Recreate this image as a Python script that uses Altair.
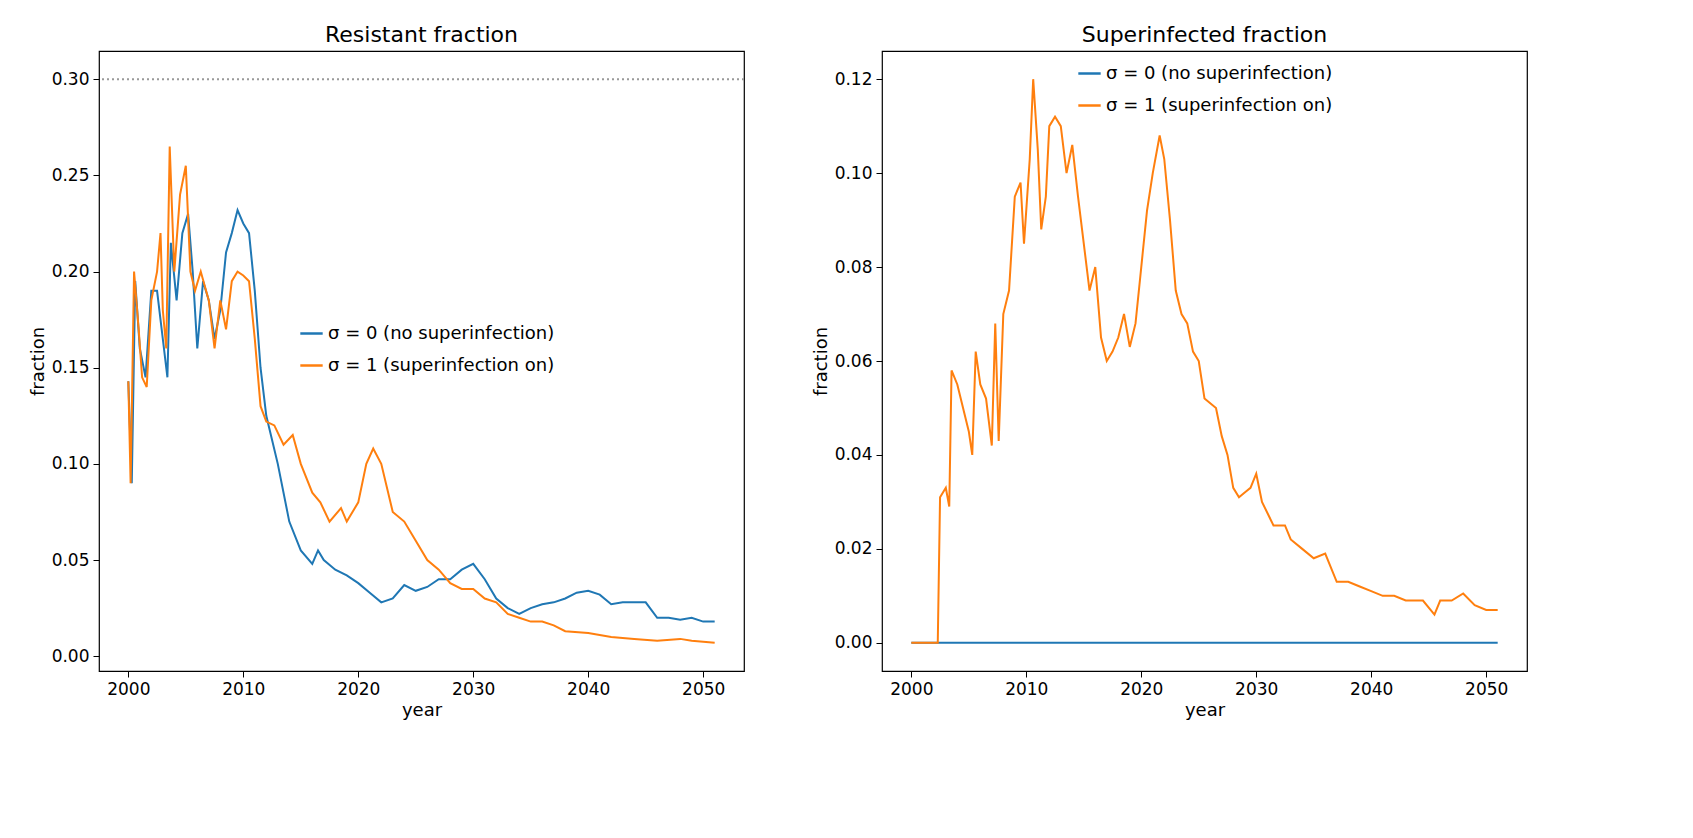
import altair as alt
import pandas as pd

LAB0 = 'σ = 0 (no superinfection)'
LAB1 = 'σ = 1 (superinfection on)'

# resistant fraction, sigma = 0
res0_year = [2000, 2000.3, 2000.6, 2001, 2001.5, 2002, 2002.5, 2003, 2003.4, 2003.7, 2004.2, 2004.7,
             2005.2, 2005.6, 2006, 2006.5, 2007, 2007.5, 2008, 2008.5, 2009, 2009.5, 2010, 2010.5,
             2011, 2011.5, 2012, 2013, 2014, 2015, 2016, 2016.5, 2017, 2018, 2019, 2020, 2021, 2022,
             2023, 2024, 2025, 2026, 2027, 2028, 2029, 2030, 2031, 2032, 2033, 2034, 2035, 2036, 2037,
             2038, 2039, 2040, 2041, 2042, 2043, 2044, 2045, 2046, 2047, 2048, 2049, 2050, 2051]
res0_val = [0.143, 0.09, 0.195, 0.16, 0.145, 0.19, 0.19, 0.165, 0.145, 0.215, 0.185, 0.22,
            0.23, 0.2, 0.16, 0.195, 0.185, 0.165, 0.18, 0.21, 0.22, 0.232, 0.225, 0.22,
            0.19, 0.15, 0.125, 0.1, 0.07, 0.055, 0.048, 0.055, 0.05, 0.045, 0.042, 0.038, 0.033, 0.028,
            0.03, 0.037, 0.034, 0.036, 0.04, 0.04, 0.045, 0.048, 0.04, 0.03, 0.025, 0.022, 0.025, 0.027, 0.028,
            0.03, 0.033, 0.034, 0.032, 0.027, 0.028, 0.028, 0.028, 0.02, 0.02, 0.019, 0.02, 0.018, 0.018]

# resistant fraction, sigma = 1
res1_year = [2000, 2000.2, 2000.5, 2000.9, 2001.2, 2001.6, 2002, 2002.5, 2002.8, 2003, 2003.3, 2003.6,
             2004, 2004.5, 2005, 2005.4, 2005.8, 2006.3, 2007, 2007.5, 2008, 2008.5, 2009, 2009.5,
             2010, 2010.5, 2011, 2011.5, 2012, 2012.7, 2013.5, 2014.3, 2015, 2016, 2016.7, 2017.5,
             2018.5, 2019, 2020, 2020.7, 2021.3, 2022, 2023, 2024, 2025, 2026, 2027, 2028, 2029, 2030,
             2031, 2032, 2033, 2034, 2035, 2036, 2037, 2038, 2040, 2042, 2044, 2046, 2048, 2049, 2051]
res1_val = [0.143, 0.09, 0.2, 0.17, 0.145, 0.14, 0.185, 0.2, 0.22, 0.18, 0.16, 0.265,
            0.2, 0.24, 0.255, 0.2, 0.19, 0.2, 0.185, 0.16, 0.185, 0.17, 0.195, 0.2,
            0.198, 0.195, 0.165, 0.13, 0.122, 0.12, 0.11, 0.115, 0.1, 0.085, 0.08, 0.07,
            0.077, 0.07, 0.08, 0.1, 0.108, 0.1, 0.075, 0.07, 0.06, 0.05, 0.045, 0.038, 0.035, 0.035,
            0.03, 0.028, 0.022, 0.02, 0.018, 0.018, 0.016, 0.013, 0.012, 0.01, 0.009, 0.008, 0.009, 0.008, 0.007]

# superinfected fraction, sigma = 1 (sigma = 0 stays at zero)
sup1_year = [2000, 2002.3, 2002.5, 2003, 2003.3, 2003.5, 2004, 2004.5, 2005, 2005.3, 2005.6, 2006,
             2006.5, 2007, 2007.3, 2007.6, 2008, 2008.5, 2009, 2009.5, 2009.8, 2010.3, 2010.6, 2011,
             2011.3, 2011.7, 2012, 2012.5, 2013, 2013.5, 2014, 2014.5, 2015, 2015.5, 2016, 2016.5,
             2017, 2017.5, 2018, 2018.5, 2019, 2019.5, 2020, 2020.5, 2021, 2021.6, 2022, 2022.5, 2023,
             2023.5, 2024, 2024.5, 2025, 2025.5, 2026.5, 2027, 2027.5, 2028, 2028.5, 2029, 2029.5, 2030,
             2030.5, 2031.5, 2032.5, 2033, 2034, 2035, 2036, 2037, 2038, 2039, 2040, 2041, 2042, 2043,
             2044.5, 2045.5, 2046, 2047, 2048, 2049, 2050, 2051]
sup1_val = [0, 0, 0.031, 0.033, 0.029, 0.058, 0.055, 0.05, 0.045, 0.04, 0.062, 0.055,
            0.052, 0.042, 0.068, 0.043, 0.07, 0.075, 0.095, 0.098, 0.085, 0.103, 0.12, 0.105,
            0.088, 0.095, 0.11, 0.112, 0.11, 0.1, 0.106, 0.095, 0.085, 0.075, 0.08, 0.065,
            0.06, 0.062, 0.065, 0.07, 0.063, 0.068, 0.08, 0.092, 0.1, 0.108, 0.103, 0.09, 0.075,
            0.07, 0.068, 0.062, 0.06, 0.052, 0.05, 0.044, 0.04, 0.033, 0.031, 0.032, 0.033, 0.036,
            0.03, 0.025, 0.025, 0.022, 0.02, 0.018, 0.019, 0.013, 0.013, 0.012, 0.011, 0.01, 0.01, 0.009,
            0.009, 0.006, 0.009, 0.009, 0.0105, 0.008, 0.007, 0.007]
sup0_year = [2000, 2051]
sup0_val = [0, 0]

res = pd.concat([
    pd.DataFrame({'year': res0_year, 'fraction': res0_val, 'run': LAB0}),
    pd.DataFrame({'year': res1_year, 'fraction': res1_val, 'run': LAB1}),
])
sup = pd.concat([
    pd.DataFrame({'year': sup0_year, 'fraction': sup0_val, 'run': LAB0}),
    pd.DataFrame({'year': sup1_year, 'fraction': sup1_val, 'run': LAB1}),
])

W, H = 645, 620
xscale = alt.Scale(domain=[1997.45, 2053.55], nice=False, zero=False)
xaxis = alt.Axis(values=[2000, 2010, 2020, 2030, 2040, 2050], format='d', grid=False)


def panel(df, title, ydom, yvals, legx, legy):
    color = alt.Color('run:N', scale=alt.Scale(domain=[LAB0, LAB1], range=['#1f77b4', '#ff7f0e']),
                      legend=alt.Legend(title=None, orient='none', legendX=legx, legendY=legy,
                                        symbolType='stroke', symbolStrokeWidth=2.5, symbolSize=500,
                                        labelFontSize=18, labelLimit=0, rowPadding=10,
                                        labelFont='DejaVu Sans'))
    lines = alt.Chart(df).mark_line(strokeWidth=2).encode(
        x=alt.X('year:Q', scale=xscale, axis=xaxis, title='year'),
        y=alt.Y('fraction:Q', scale=alt.Scale(domain=ydom, nice=False, zero=False),
                axis=alt.Axis(values=yvals, format='.2f', grid=False), title='fraction'),
        color=color,
        order='year:Q',
    )
    return lines.properties(width=W, height=H, title=title)


thr = pd.DataFrame({'y': [0.30]})
rule = alt.Chart(thr).mark_rule(color='#999999', strokeDash=[2, 3], strokeWidth=2).encode(y='y:Q')

left = alt.layer(
    rule,
    panel(res, 'Resistant fraction', [-0.0077, 0.3147],
          [0, 0.05, 0.1, 0.15, 0.2, 0.25, 0.3], 200, 270),
)
right = panel(sup, 'Superinfected fraction', [-0.006, 0.126],
              [0, 0.02, 0.04, 0.06, 0.08, 0.1, 0.12], 195, 10)

chart = alt.hconcat(left, right, spacing=65).resolve_scale(color='independent').properties(
    padding={'left': 20, 'top': 15, 'right': 5, 'bottom': 5}
).configure_view(
    stroke='black', strokeWidth=1.2
).configure_axis(
    labelFontSize=17, titleFontSize=18, labelColor='black', titleColor='black',
    titleFontWeight='normal', domain=False, tickColor='black', tickSize=6, labelFont='DejaVu Sans',
    titleFont='DejaVu Sans', labelPadding=4
).configure_title(
    fontSize=22, fontWeight='normal', font='DejaVu Sans', color='black'
)

chart.save("out.html", embed_options={"renderer": "svg", "actions": False})
